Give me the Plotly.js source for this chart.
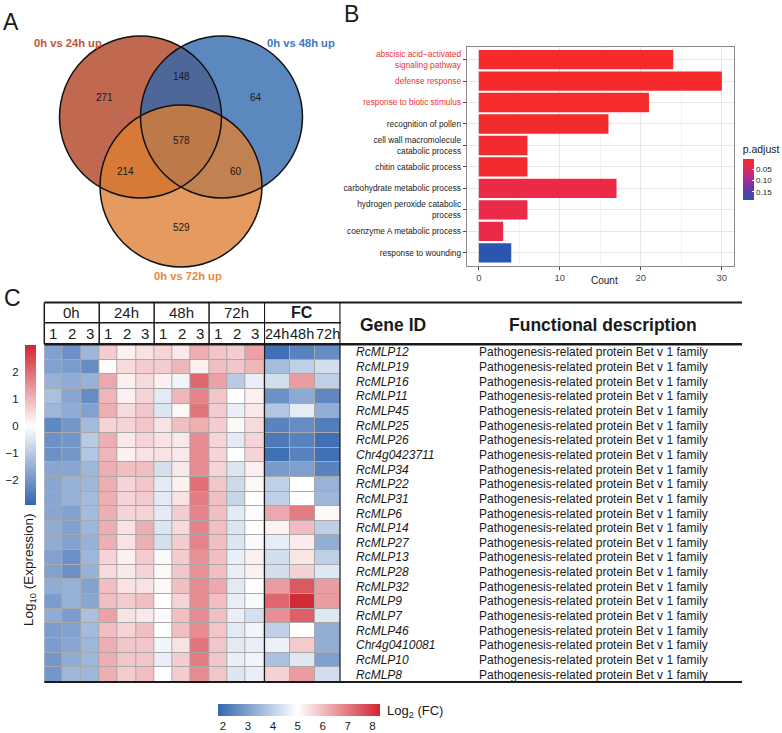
<!DOCTYPE html>
<html>
<head>
<meta charset="utf-8">
<script src="https://cdn.plot.ly/plotly-3.0.1.min.js"></script>
<style>html,body{margin:0;padding:0;background:#fff;}#chart{width:782px;height:733px;}</style>
</head>
<body>
<div id="chart"></div>
<script>
// ---------------- DATA ----------------
// Panel A: Venn diagram
const vennSetLabels = ['0h vs 24h up', '0h vs 48h up', '0h vs 72h up'];
const vennRegionNames = ['24h only', '24h & 48h', '48h only', '24h & 48h & 72h', '24h & 72h', '48h & 72h', '72h only'];
const vennRegionCounts = [271, 148, 64, 578, 214, 60, 529];

// Panel B: GO enrichment
const goTerms = [
  'abscisic acid\u2212activated<br>signaling pathway',
  'defense response',
  'response to biotic stimulus',
  'recognition of pollen',
  'cell wall macromolecule<br>catabolic process',
  'chitin catabolic process',
  'carbohydrate metabolic process',
  'hydrogen peroxide catabolic<br>process',
  'coenzyme A metabolic process',
  'response to wounding'
];
const goCounts = [24, 30, 21, 16, 6, 6, 17, 6, 3, 4];
const goPAdjust = [0.006, 0.006, 0.007, 0.008, 0.010, 0.010, 0.030, 0.030, 0.030, 0.186];
const goHighlighted = [true, true, true, false, false, false, false, false, false, false];
const pAdjTicks = [0.05, 0.10, 0.15];

// Panel C: heatmap + table
const timeGroups = ['0h', '24h', '48h', '72h'];
const replicates = ['1', '2', '3'];
const fcLabels = ['24h', '48h', '72h'];
const genes = ['RcMLP12','RcMLP19','RcMLP16','RcMLP11','RcMLP45','RcMLP25','RcMLP26','Chr4g0423711',
  'RcMLP34','RcMLP22','RcMLP31','RcMLP6','RcMLP14','RcMLP27','RcMLP13','RcMLP28','RcMLP32','RcMLP9',
  'RcMLP7','RcMLP46','Chr4g0410081','RcMLP10','RcMLP8'];
const functionalDescriptions = genes.map(() => 'Pathogenesis-related protein Bet v 1 family');
// log10 expression (row-scaled), columns: 0h 1-3, 24h 1-3, 48h 1-3, 72h 1-3
const expression = [
  [-1.8,-2.1,-1.4, 0.7,0.2,0.4, 0.6,0.3,1.1, 0.8,0.7,1.3],
  [-1.8,-1.9,-2.2, 0.05,0.5,0.7, 0.7,1.0,0.2, 0.9,0.8,1.0],
  [-1.5,-1.6,-1.5, 1.2,0.2,0.5, 0.2,-0.2,2.1, 1.3,-1.0,-0.3],
  [-1.2,-1.7,-2.2, 1.0,0.2,0.6, -0.4,1.0,1.7, 0.8,0.0,0.2],
  [-1.4,-1.6,-1.8, 1.1,0.5,0.8, -0.5,0.1,1.9, 0.7,-0.3,0.3],
  [-2.3,-2.0,-1.3, 0.6,0.6,0.8, 0.4,0.9,1.1, 0.7,0.1,0.5],
  [-2.1,-2.0,-1.0, 1.1,0.3,0.6, 0.4,0.3,1.6, 0.6,-0.4,0.6],
  [-2.1,-2.0,-1.1, 1.0,0.2,0.4, 0.4,0.3,1.6, 0.6,0.0,0.6],
  [-1.7,-1.7,-1.4, 1.1,0.9,0.9, -0.6,0.3,1.6, 0.6,-0.5,0.2],
  [-1.7,-1.5,-1.4, 1.1,0.6,0.8, -0.4,0.2,2.0, 0.8,-0.7,0.1],
  [-1.7,-1.5,-1.3, 1.1,0.6,0.7, -0.4,0.4,1.8, 0.9,-0.8,0.0],
  [-1.7,-1.8,-1.3, 1.1,0.6,0.6, -0.4,0.7,1.7, 0.9,-0.4,-0.05],
  [-1.6,-1.8,-1.4, 1.1,0.4,1.1, -0.5,0.5,1.7, 0.9,-0.5,0.0],
  [-1.6,-1.8,-1.5, 1.1,0.4,1.1, -0.6,0.7,1.7, 0.9,-0.5,-0.1],
  [-1.8,-2.1,-1.4, 0.6,0.2,0.7, 0.1,0.7,1.5, 0.9,-0.3,0.2],
  [-1.8,-2.1,-1.5, 0.5,0.3,0.6, 0.1,0.8,1.5, 0.9,-0.3,0.2],
  [-1.6,-1.5,-1.8, 0.9,0.4,0.4, 0.1,0.9,1.6, 1.2,-0.4,0.0],
  [-1.9,-1.5,-1.7, 0.9,0.7,0.9, 0.0,0.6,1.6, 0.9,-0.3,-0.1],
  [-1.6,-1.9,-1.2, 1.3,0.4,0.3, -0.1,0.9,1.6, 0.9,-0.3,-0.6],
  [-1.9,-1.8,-1.3, 0.9,0.6,0.9, 0.0,0.9,1.6, 0.8,-0.4,-0.2],
  [-1.9,-1.7,-1.4, 1.1,0.8,0.8, -0.2,0.4,1.9, 0.8,-0.4,-0.3],
  [-2.0,-1.6,-1.4, 1.1,0.8,0.8, -0.3,0.7,1.8, 0.8,-0.3,-0.2],
  [-2.0,-1.4,-1.4, 1.1,0.7,0.9, 0.0,0.7,1.6, 0.8,-0.5,-0.3]
];
// log2 fold change: 24h, 48h, 72h
const log2FC = [
  [2.0,2.4,2.6],[3.6,4.0,4.3],[4.3,6.5,4.0],[2.7,3.2,2.5],[3.8,4.6,3.3],[2.4,2.6,2.3],
  [2.2,2.4,2.0],[2.0,2.4,2.0],[2.9,3.0,2.4],[4.0,5.0,3.4],[4.0,5.0,3.5],[6.3,7.0,5.1],
  [5.2,6.0,4.0],[4.6,5.3,3.3],[4.3,5.4,4.0],[4.3,5.7,4.5],[6.5,7.5,6.5],[7.3,8.2,6.5],
  [6.7,7.4,4.5],[4.0,5.0,3.3],[4.7,5.8,3.3],[3.7,4.5,3.0],[5.7,6.5,4.3]
];
const exprTicks = [-2, -1, 0, 1, 2];
const fcTicks = [2, 3, 4, 5, 6, 7, 8];

// ---------------- LAYOUT HELPERS ----------------
const W = 782, H = 733;
const px = x => x / W;
const py = y => 1 - y / H;
const FONT = 'Liberation Sans, Arial, sans-serif';
const INK = '#1a1a1a';

const traces = [];
const shapes = [];
const annotations = [];

// ---------- Panel A: Venn ----------
const vennR = 81;
const vennCenters = [[140.5, 117], [221.5, 117], [181, 186]];
const vennFill = ['rgb(176,63,31)', 'rgb(46,102,174)', 'rgb(222,127,50)'];
const vennTextColor = ['#c0533a', '#3a78c0', '#e8893a'];
const vennLabelPos = [[68, 43], [301, 43], [188, 276]];
const vennRegionPos = [[104, 97], [181.5, 76], [256, 97], [181, 140], [125, 172], [236, 172], [181, 228]];
vennCenters.forEach((c, i) => {
  shapes.push({type: 'circle', xref: 'paper', yref: 'paper',
    x0: px(c[0] - vennR), x1: px(c[0] + vennR), y0: py(c[1] + vennR), y1: py(c[1] - vennR),
    fillcolor: vennFill[i], opacity: 0.78, line: {width: 0}});
});
vennCenters.forEach((c) => {
  shapes.push({type: 'circle', xref: 'paper', yref: 'paper',
    x0: px(c[0] - vennR), x1: px(c[0] + vennR), y0: py(c[1] + vennR), y1: py(c[1] - vennR),
    fillcolor: 'rgba(0,0,0,0)', line: {width: 1.5, color: '#111'}});
});
vennSetLabels.forEach((t, i) => {
  annotations.push({xref: 'paper', yref: 'paper', x: px(vennLabelPos[i][0]), y: py(vennLabelPos[i][1]),
    text: '<b>' + t + '</b>', showarrow: false, xanchor: 'center', yanchor: 'middle',
    font: {size: 11.2, color: vennTextColor[i], family: FONT}});
});
vennRegionCounts.forEach((v, i) => {
  annotations.push({xref: 'paper', yref: 'paper', x: px(vennRegionPos[i][0]), y: py(vennRegionPos[i][1]),
    text: String(v), showarrow: false, xanchor: 'center', yanchor: 'middle',
    font: {size: 10, color: INK, family: FONT}});
});

// ---------- Panel B: bar chart ----------
const pScaleMin = 0.006, pScaleMax = 0.186;
traces.push({
  type: 'bar', orientation: 'h', x: goCounts, y: goTerms, width: 0.9,
  xaxis: 'x', yaxis: 'y', hoverinfo: 'skip',
  marker: {
    color: goPAdjust.map(p => -p), cmin: -pScaleMax, cmax: -pScaleMin,
    colorscale: [[0, '#2a56b0'], [0.3, '#6a35a8'], [0.55, '#b8288f'], [0.8, '#e42a55'], [1, '#f52b2b']],
    line: {width: 0},
    colorbar: {
      x: px(742.7), xanchor: 'left', y: py(200), yanchor: 'bottom',
      len: 58, lenmode: 'pixels', thickness: 11, thicknessmode: 'pixels',
      xpad: 0, ypad: 0, outlinewidth: 0,
      tickvals: pAdjTicks.map(p => -p), ticktext: pAdjTicks.map(p => p.toFixed(2)),
      ticks: 'inside', ticklen: 2, tickcolor: '#fff',
      tickfont: {size: 8, color: INK, family: FONT},
      title: {text: 'p.adjust', side: 'top', font: {size: 10.5, color: INK, family: FONT}}
    }
  }
});
annotations.push({xref: 'paper', yref: 'paper', x: px(604), y: py(280), text: 'Count', showarrow: false,
  xanchor: 'center', yanchor: 'middle', font: {size: 10, color: INK, family: FONT}});

// ---------- Panel C: heatmaps ----------
const colIdx = expression[0].map((_, j) => j);
const fcIdx = fcLabels.map((_, j) => j);
const blueWhiteRed = (mid) => [[0, '#3366b0'], [mid, '#ffffff'], [1, '#d02530']];
const exprMin = -2.93, exprMax = 3.0;
const fcMin = 1.8, fcMax = 8.3;
traces.push({
  type: 'heatmap', x: colIdx, y: genes, z: expression, xaxis: 'x2', yaxis: 'y2',
  zmin: exprMin, zmax: exprMax, colorscale: blueWhiteRed((0 - exprMin) / (exprMax - exprMin)),
  xgap: 1, ygap: 1, hoverinfo: 'skip',
  colorbar: {x: px(25), xanchor: 'left', y: py(505), yanchor: 'bottom', len: 160, lenmode: 'pixels',
    thickness: 11, thicknessmode: 'pixels', xpad: 0, ypad: 0, outlinewidth: 0,
    showticklabels: false, ticks: ''}
});
traces.push({
  type: 'heatmap', x: fcIdx, y: genes, z: log2FC, xaxis: 'x3', yaxis: 'y2',
  zmin: fcMin, zmax: fcMax, colorscale: blueWhiteRed((5 - fcMin) / (fcMax - fcMin)),
  xgap: 1, ygap: 1, hoverinfo: 'skip',
  colorbar: {orientation: 'h', x: px(218), xanchor: 'left', y: py(704), yanchor: 'top',
    len: 162, lenmode: 'pixels', thickness: 12, thicknessmode: 'pixels', xpad: 0, ypad: 0,
    outlinewidth: 0, tickvals: fcTicks, ticks: '', ticklabelposition: 'outside',
    tickfont: {size: 11.5, color: INK, family: FONT}}
});
annotations.push({xref: 'paper', yref: 'paper', x: px(385), y: py(711), text: 'Log<sub>2</sub> (FC)',
  showarrow: false, xanchor: 'left', yanchor: 'middle', font: {size: 13, color: INK, family: FONT}});
// dummy trace for the expression colorbar's labelled axis
traces.push({type: 'scatter', x: [], y: [], xaxis: 'x4', yaxis: 'y4', showlegend: false, hoverinfo: 'skip'});

// gray cell borders behind heatmaps
shapes.push({type: 'rect', xref: 'paper', yref: 'paper', layer: 'below',
  x0: px(44.3), x1: px(340.5), y0: py(682), y1: py(345), fillcolor: '#a9a9a9', line: {width: 0}});

// table lines
const hTop = 302.5, hMid = 322.7, hBot = 344.3, tBot = 682, tRight = 742;
const hline = (y, x0, x1, w) => shapes.push({type: 'line', xref: 'paper', yref: 'paper',
  x0: px(x0), x1: px(x1), y0: py(y), y1: py(y), line: {color: INK, width: w}});
hline(hTop, 44.3, tRight, 1.8);
hline(hMid, 44.3, 341, 1.5);
hline(hBot, 44.3, tRight, 2.4);
hline(tBot, 44.3, tRight, 2.2);
shapes.push({type: 'line', xref: 'paper', yref: 'paper', x0: px(44.3), x1: px(44.3), y0: py(hTop), y1: py(hBot),
  line: {color: INK, width: 1.5}});
[1, 2, 3].forEach(g => {
  const xv = g * replicates.length - 0.5;
  shapes.push({type: 'line', xref: 'x2', yref: 'paper', x0: xv, x1: xv, y0: py(hTop), y1: py(hBot),
    line: {color: INK, width: 1.5}});
});
[-0.5, fcLabels.length - 0.5].forEach(xv => {
  shapes.push({type: 'line', xref: 'x3', yref: 'paper', x0: xv, x1: xv, y0: py(hTop), y1: py(tBot),
    line: {color: INK, width: 2.2}});
});

// header text
timeGroups.forEach((g, i) => {
  annotations.push({xref: 'x2', yref: 'paper', x: i * replicates.length + (replicates.length - 1) / 2, y: py(313),
    text: g, showarrow: false, xanchor: 'center', yanchor: 'middle', font: {size: 15, color: INK, family: FONT}});
  replicates.forEach((r, k) => {
    annotations.push({xref: 'x2', yref: 'paper', x: i * replicates.length + k, y: py(333.5),
      text: r, showarrow: false, xanchor: 'center', yanchor: 'middle', font: {size: 15, color: INK, family: FONT}});
  });
});
annotations.push({xref: 'x3', yref: 'paper', x: (fcLabels.length - 1) / 2, y: py(313), text: '<b>FC</b>',
  showarrow: false, xanchor: 'center', yanchor: 'middle', font: {size: 16, color: INK, family: FONT}});
fcLabels.forEach((t, k) => {
  annotations.push({xref: 'x3', yref: 'paper', x: k, y: py(333.5), text: t, showarrow: false,
    xanchor: 'center', yanchor: 'middle', font: {size: 14.5, color: INK, family: FONT}});
});
annotations.push({xref: 'paper', yref: 'paper', x: px(358), y: py(325), text: '<b>Gene ID</b>', showarrow: false,
  xanchor: 'left', yanchor: 'middle', font: {size: 17.5, color: INK, family: FONT}});
annotations.push({xref: 'paper', yref: 'paper', x: px(507), y: py(325), text: '<b>Functional description</b>',
  showarrow: false, xanchor: 'left', yanchor: 'middle', font: {size: 17.5, color: INK, family: FONT}});
genes.forEach((g, i) => {
  annotations.push({xref: 'paper', yref: 'y2', x: px(354), y: g, text: '<i>' + g + '</i>', showarrow: false,
    xanchor: 'left', yanchor: 'middle', font: {size: 12, color: INK, family: FONT}});
  annotations.push({xref: 'paper', yref: 'y2', x: px(476.5), y: g, text: functionalDescriptions[i], showarrow: false,
    xanchor: 'left', yanchor: 'middle', font: {size: 12, color: INK, family: FONT}});
});
annotations.push({xref: 'paper', yref: 'paper', x: px(29), y: py(570), text: 'Log<sub>10</sub> (Expression)',
  textangle: -90, showarrow: false, xanchor: 'center', yanchor: 'middle', font: {size: 13.5, color: INK, family: FONT}});

// panel letters
[['A', 11, 21.5], ['B', 351.5, 13.5], ['C', 12, 298]].forEach(([t, x, y]) => {
  annotations.push({xref: 'paper', yref: 'paper', x: px(x), y: py(y), text: t, showarrow: false,
    xanchor: 'center', yanchor: 'middle', font: {size: 23, color: INK, family: FONT}});
});

const layout = {
  width: W, height: H, margin: {l: 0, r: 0, t: 0, b: 0},
  paper_bgcolor: '#ffffff', plot_bgcolor: 'rgba(0,0,0,0)',
  font: {family: FONT, color: INK}, showlegend: false, hovermode: false,
  xaxis: {domain: [px(466.7), px(734)], anchor: 'y', range: [-1.5, 31.5], dtick: 10, tick0: 0,
    ticks: 'outside', ticklen: 3, tickcolor: '#444', tickfont: {size: 9.5, color: '#4d4d4d'},
    showgrid: true, gridcolor: '#e6e6e6', gridwidth: 1,
    minor: {dtick: 5, tick0: 0, showgrid: true, gridcolor: '#f2f2f2', gridwidth: 1, ticks: ''},
    showline: true, mirror: true, linecolor: '#8a8a8a', linewidth: 1, zeroline: false, fixedrange: true},
  yaxis: {domain: [py(265.7), py(46.7)], anchor: 'x', type: 'category', categoryarray: goTerms,
    range: [goTerms.length - 0.4, -0.6],
    tickvals: goTerms,
    ticktext: goTerms.map((t, i) => goHighlighted[i] ? '<span style="color:#f03030">' + t + '</span>' : t),
    ticks: 'outside', ticklen: 3, tickcolor: '#444', tickfont: {size: 8.3, color: INK},
    showgrid: true, gridcolor: '#e6e6e6', gridwidth: 1,
    showline: true, mirror: true, linecolor: '#8a8a8a', linewidth: 1, zeroline: false, fixedrange: true},
  xaxis2: {domain: [px(44.3), px(264)], anchor: 'y2', range: [-0.5, colIdx.length - 0.5], visible: false},
  xaxis3: {domain: [px(264), px(340.5)], anchor: 'y2', range: [-0.5, fcIdx.length - 0.5], visible: false},
  yaxis2: {domain: [py(682), py(345)], anchor: 'x2', type: 'category', categoryarray: genes,
    range: [genes.length - 0.5, -0.5], visible: false},
  xaxis4: {domain: [px(25), px(36)], anchor: 'y4', range: [0, 1], visible: false},
  yaxis4: {domain: [py(505), py(345)], anchor: 'x4', side: 'left', range: [exprMin, exprMax],
    tickvals: exprTicks, ticks: 'outside', ticklen: 3, tickcolor: 'rgba(0,0,0,0)',
    showgrid: false, zeroline: false, showline: false, tickfont: {size: 11.5, color: INK}},
  shapes: shapes,
  annotations: annotations
};

Plotly.newPlot('chart', traces, layout, {staticPlot: true, displayModeBar: false});
</script>
</body>
</html>
